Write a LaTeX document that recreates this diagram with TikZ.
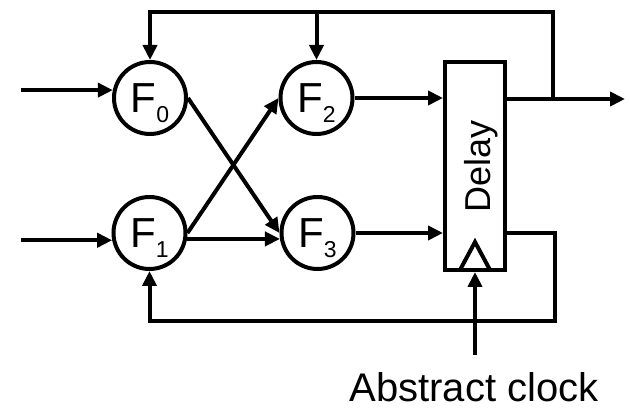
\documentclass[tikz,border=0pt]{standalone}
\usepackage{fontspec}
\setmainfont{Liberation Sans}
\usetikzlibrary{arrows.meta,calc}
% block label: F with a lowered index
\newcommand{\flabel}[1]{F\raisebox{-10pt}{\fontsize{23}{23}\selectfont #1}}
\begin{document}
\begin{tikzpicture}[x=1pt,y=-1pt,
  wire/.style={line width=4pt},
  arr/.style={wire,-{Triangle[length=15pt,width=14pt]}},
  fblock/.style={circle,draw,line width=4pt,minimum size=72pt,inner sep=0pt,
    text height=30pt,text depth=0pt,font=\fontsize{42}{42}\selectfont},
  delaybox/.style={draw,line width=4pt,minimum width=60pt,minimum height=208pt,inner sep=0pt}
]
\useasboundingbox (0,0) rectangle (630,411);

% function blocks
\node[fblock] (F0) at (150,98) {\flabel{0}};
\node[fblock] (F1) at (149.5,233) {\flabel{1}};
\node[fblock] (F2) at (316.5,98) {\flabel{2}};
\node[fblock] (F3) at (317.5,233) {\flabel{3}};

% delay element with clock input
\node[delaybox] (D) at (475,166) {};
\node[rotate=90,anchor=base,inner sep=0pt,font=\fontsize{36}{36}\selectfont] (DL) at (490,166) {Delay};
\draw[wire,line join=miter] (460,270) -- (475,242) -- (490,270);

% free ends of the wires
\coordinate (in0) at (21,0);
\coordinate (out) at (625,99);
\coordinate (tap) at (553,99);
\coordinate (top) at (0,12);
\coordinate (fb) at (555,321);
\coordinate (clk) at (475,355);

% inputs
\draw[arr] (F0.168 -| in0) -- (F0.168);
\draw[arr] (F1.191 -| in0) -- (F1.191);

% crossing network
\draw[arr] (F0.east) -- (F3.west);
\draw[arr] (F1.east) -- (F2.west);
\draw[arr] (F1.-9) -- (F3.189);

% into the delay
\draw[arr] (F2.east) -- (F2.east -| D.west);
\draw[arr] (F3.east) -- (F3.east -| D.west);

% output and top feedback
\draw[arr] (D.east |- out) -- (out);
\draw[arr] (tap) |- (F0.north |- top) -- (F0.north);
\draw[arr] (F2.north |- top) -- (F2.north);

% bottom feedback
\draw[arr] (D.east |- F3.east) -| (fb) -| (F1.south);

% clock
\draw[arr] (clk) -- (D.south);
\node[anchor=base,inner sep=0pt,text depth=0pt,font=\fontsize{40}{40}\selectfont] (clklabel) at (474,402) {Abstract clock};
\end{tikzpicture}
\end{document}
